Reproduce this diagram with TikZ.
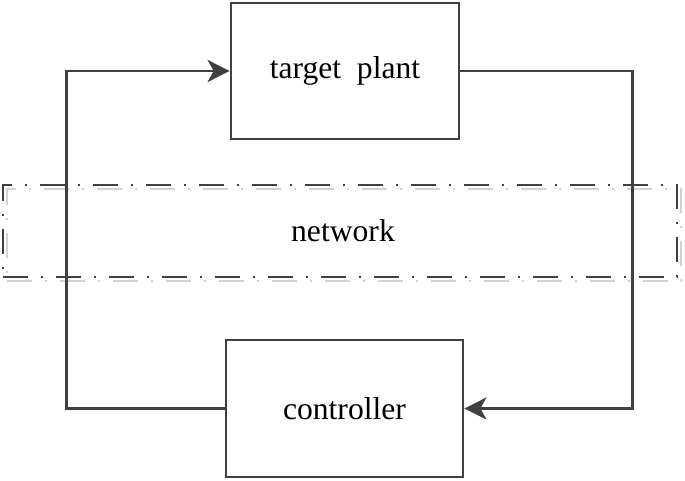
\documentclass[tikz,border=0pt]{standalone}
\usepackage{fontspec}
\setmainfont{Liberation Serif}
\usetikzlibrary{positioning,arrows.meta,calc}
\definecolor{Line}{RGB}{64,64,64}
\definecolor{Shade}{RGB}{210,210,210}

\begin{document}
\begin{tikzpicture}[
    block/.style={rectangle,draw=Line,line width=0.055cm,font=\fontsize{18}{22}\selectfont},
    net/.style={rectangle,line width=0.045cm,dash pattern=on 0.5cm off 0.26cm on 0.04cm off 0.26cm},
    arrow/.style={-{Stealth[length=4.4mm,width=4.4mm,inset=1.2mm]},draw=Line,line width=0.055cm}
]
\useasboundingbox (0,0) rectangle (13.7,9.6);

% Network region (with light shadow)
\node[net,draw=Shade,minimum width=13.48cm,minimum height=1.84cm] (net-shadow) at (6.88,4.9) {};
\node[net,draw=Line,minimum width=13.48cm,minimum height=1.84cm,font=\fontsize{18}{22}\selectfont] (network) at (6.8,4.98) {\hspace*{0.12cm}network};

% Plant and controller
\node[block,minimum width=4.56cm,minimum height=2.72cm] (plant) at (6.9,8.18) {target\ \ plant};
\node[block,minimum width=4.74cm,minimum height=2.74cm] (controller) at (6.89,1.43) {controller};

% Feedback loop
\draw[arrow] (controller.west) -- ++(-3.16,0) |- (plant.west);
\draw[arrow] (plant.east) -- ++(3.44,0) |- (controller.east);

\end{tikzpicture}
\end{document}
